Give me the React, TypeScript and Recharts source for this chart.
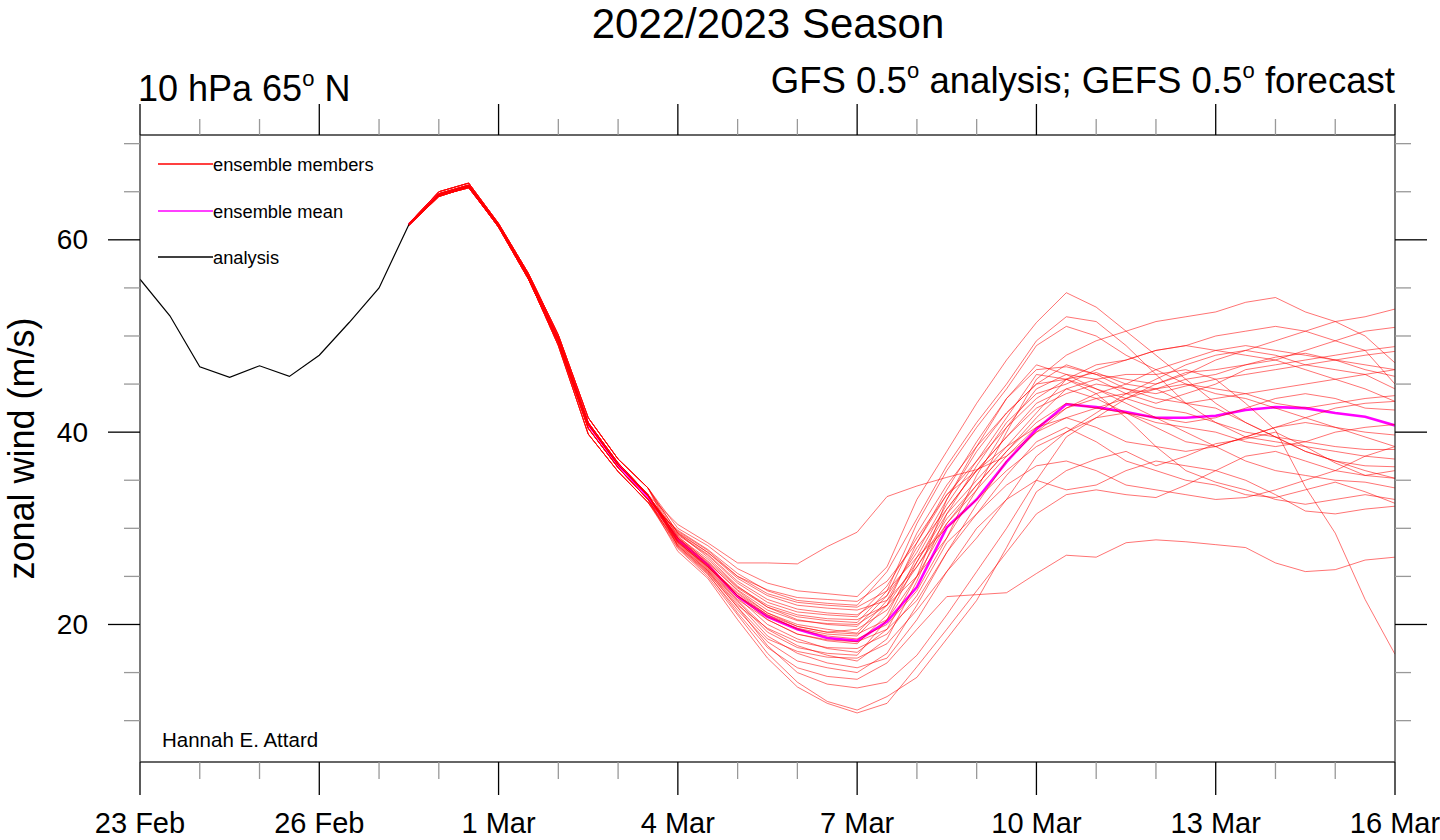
import React from "react";
import { LineChart, Line, XAxis, YAxis } from "recharts";

const FONT = "'Liberation Sans', Arial, Helvetica, sans-serif";

// days since 23 Feb 00Z
const analysisDays = [0, 0.5, 1, 1.5, 2, 2.5, 3, 3.5, 4, 4.5];
const analysisWind = [55.9, 52.1, 46.8, 45.7, 46.9, 45.8, 48.0, 51.4, 55.0, 61.6];

const forecastDays = [
  4.5, 5, 5.5, 6, 6.5, 7, 7.5, 8, 8.5, 9, 9.5, 10, 10.5, 11, 11.5, 12, 12.5,
  13, 13.5, 14, 14.5, 15, 15.5, 16, 16.5, 17, 17.5, 18, 18.5, 19, 19.5, 20, 20.5, 21,
];

const ensembleMean = [
  61.6, 64.7, 65.6, 61.5, 56.2, 49.6, 40.8, 36.6, 33.3, 28.8, 26.2, 22.9, 20.8, 19.5,
  18.6, 18.3, 20.3, 23.9, 30.1, 33.0, 36.9, 40.3, 42.9, 42.6, 42.1, 41.5, 41.5, 41.7,
  42.3, 42.6, 42.5, 42.0, 41.6, 40.7,
];

const m01 = [61.5, 64.5, 65.5, 61.3, 55.9, 49.3, 40.4, 36.3, 33.0, 27.6, 24.8, 20.5, 16.5, 13.5, 11.8, 10.8, 11.8, 15.6, 19.5, 23.5, 27.5, 31.5, 33.5, 34.0, 33.5, 33.2, 34.5, 36.0, 37.5, 38.0, 37.0, 36.0, 35.5, 36.0];
const m02 = [61.6, 64.6, 65.4, 61.4, 56.0, 49.0, 39.8, 35.9, 32.7, 27.9, 25.0, 21.0, 17.0, 14.0, 12.0, 11.1, 12.5, 14.5, 18.5, 22.5, 28.0, 33.8, 36.0, 37.2, 38.0, 36.5, 37.5, 38.8, 39.3, 40.0, 38.5, 36.8, 35.5, 35.2];
const m03 = [61.6, 64.8, 65.7, 61.6, 56.3, 49.8, 41.0, 36.8, 33.5, 28.2, 25.5, 21.8, 17.8, 15.0, 13.8, 13.4, 14.0, 16.8, 21.0, 25.5, 30.0, 35.0, 39.5, 41.5, 43.5, 45.0, 46.2, 46.5, 47.0, 47.8, 48.2, 47.5, 46.5, 45.8];
const m04 = [61.5, 64.5, 65.5, 61.3, 55.9, 49.3, 40.4, 36.3, 33.0, 28.0, 25.2, 21.5, 18.2, 16.2, 15.5, 15.0, 17.0, 22.0, 27.5, 31.5, 35.5, 39.0, 40.5, 39.0, 37.0, 36.0, 35.0, 34.5, 33.5, 33.2, 34.0, 34.8, 33.8, 32.6];
const m05 = [61.6, 64.7, 65.6, 61.5, 56.2, 49.6, 40.8, 36.6, 33.4, 28.4, 25.6, 22.2, 18.8, 17.0, 16.0, 15.5, 16.5, 20.5, 25.5, 30.0, 33.0, 35.0, 34.0, 34.5, 36.0, 37.0, 36.5, 36.0, 35.0, 33.5, 31.8, 31.5, 32.0, 32.3];
const m06 = [61.7, 65.0, 65.9, 61.7, 56.5, 50.1, 41.5, 37.2, 34.2, 28.6, 25.8, 22.5, 19.5, 17.8, 16.8, 16.2, 18.5, 24.5, 31.5, 35.0, 38.5, 42.0, 45.5, 46.2, 45.0, 44.5, 43.0, 42.5, 41.0, 39.5, 38.0, 37.0, 36.0, 35.2];
const m07 = [61.6, 64.8, 65.7, 61.6, 56.3, 49.8, 41.0, 36.8, 33.5, 28.8, 26.0, 22.8, 20.0, 18.5, 17.5, 17.1, 19.5, 25.0, 30.5, 34.5, 38.0, 41.5, 44.5, 43.5, 42.0, 40.5, 39.0, 38.5, 39.5, 40.5, 41.5, 42.5, 43.0, 43.2];
const m08 = [61.6, 64.7, 65.6, 61.5, 56.2, 49.6, 40.8, 36.6, 33.4, 29.0, 26.3, 23.0, 20.5, 19.0, 18.3, 18.0, 21.0, 27.0, 32.5, 37.0, 41.5, 46.0, 45.5, 44.0, 41.5, 38.5, 36.0, 34.8, 34.0, 33.0, 32.5, 33.0, 33.5, 33.0];
const m09 = [61.6, 64.6, 65.4, 61.4, 56.0, 49.0, 39.8, 35.9, 32.7, 28.5, 26.0, 23.2, 21.0, 19.5, 18.8, 18.5, 20.0, 23.5, 29.0, 35.5, 40.5, 44.5, 46.0, 45.5, 44.0, 43.0, 44.0, 45.0, 46.5, 47.0, 47.5, 48.0, 48.5, 48.9];
const m10 = [61.5, 64.5, 65.5, 61.3, 55.9, 49.3, 40.4, 36.3, 33.0, 29.2, 26.5, 23.5, 21.2, 20.0, 19.5, 19.1, 22.5, 28.0, 32.0, 36.0, 39.5, 43.0, 44.5, 45.5, 46.0, 46.0, 46.5, 45.5, 43.0, 40.2, 34.3, 29.5, 22.6, 16.9];
const m11 = [61.7, 65.0, 65.9, 61.7, 56.5, 50.1, 41.5, 37.2, 34.2, 29.5, 27.0, 24.0, 21.8, 20.5, 20.0, 19.8, 23.0, 29.5, 34.5, 38.5, 42.0, 45.0, 47.0, 46.0, 44.5, 43.5, 43.0, 43.5, 44.0, 44.5, 45.0, 45.5, 46.0, 46.5];
const m12 = [61.6, 64.8, 65.7, 61.6, 56.3, 49.8, 41.0, 36.8, 33.5, 29.0, 26.6, 23.8, 21.8, 20.8, 20.4, 20.2, 23.5, 30.5, 36.0, 40.5, 44.5, 49.0, 51.0, 50.0, 48.0, 46.5, 45.0, 44.0, 43.5, 42.5, 41.5, 40.5, 39.5, 38.5];
const m13 = [61.6, 64.7, 65.6, 61.5, 56.2, 49.6, 40.8, 36.6, 33.4, 29.3, 27.2, 24.3, 22.3, 21.3, 21.0, 20.8, 24.0, 29.0, 33.5, 37.0, 40.5, 43.5, 45.5, 47.0, 47.5, 48.5, 49.0, 48.5, 48.0, 47.5, 48.5, 49.5, 50.5, 50.9];
const m14 = [61.5, 64.5, 65.5, 61.3, 55.9, 49.3, 40.4, 36.3, 33.0, 29.6, 27.5, 24.8, 23.0, 22.0, 21.7, 21.5, 22.5, 26.0, 30.5, 34.0, 37.5, 40.5, 42.5, 43.5, 44.0, 44.5, 45.5, 46.0, 47.0, 47.5, 46.5, 45.5, 44.5, 43.2];
const m15 = [61.6, 64.6, 65.4, 61.4, 56.0, 49.0, 39.8, 35.9, 32.7, 29.8, 27.8, 25.3, 23.5, 22.5, 22.2, 22.0, 25.5, 31.0, 36.5, 41.0, 45.0, 49.5, 52.0, 51.5, 49.0, 46.0, 43.0, 41.0, 39.5, 39.0, 38.5, 38.0, 37.5, 37.2];
const m16 = [61.7, 65.0, 65.9, 61.7, 56.5, 50.1, 41.5, 37.2, 34.2, 30.0, 28.2, 25.8, 24.3, 23.5, 23.2, 22.9, 26.0, 33.0, 38.0, 43.0, 47.5, 51.4, 54.5, 53.0, 50.5, 48.0, 45.5, 43.0, 41.0, 39.5, 38.0, 37.0, 36.5, 36.4];
const m17 = [61.6, 64.8, 65.7, 61.6, 56.3, 49.8, 41.0, 36.8, 33.5, 30.4, 28.5, 26.4, 26.4, 26.3, 28.1, 29.6, 33.3, 34.4, 35.3, 36.1, 37.5, 40.0, 42.5, 44.0, 45.0, 46.5, 47.5, 48.5, 49.0, 48.5, 48.0, 47.5, 47.0, 46.5];
const m18 = [61.6, 64.7, 65.6, 61.5, 56.2, 49.6, 40.8, 36.6, 33.4, 28.9, 26.2, 23.0, 21.0, 19.8, 19.2, 19.5, 21.5, 26.0, 31.0, 34.5, 38.0, 41.0, 43.0, 42.5, 42.0, 41.5, 41.0, 41.5, 42.5, 43.5, 44.0, 43.5, 42.5, 42.3];
const m19 = [61.5, 64.5, 65.5, 61.3, 55.9, 49.3, 40.4, 36.3, 33.0, 28.6, 25.9, 22.6, 20.5, 19.0, 18.4, 18.2, 19.5, 22.5, 27.5, 32.5, 37.0, 40.0, 41.5, 40.5, 39.0, 38.5, 38.0, 38.5, 39.5, 40.5, 41.0, 40.5, 40.0, 39.7];
const m20 = [61.6, 64.6, 65.4, 61.4, 56.0, 49.0, 39.8, 35.9, 32.7, 28.3, 25.6, 22.0, 19.6, 18.2, 17.6, 17.5, 19.0, 23.0, 28.5, 31.5, 34.5, 36.5, 37.0, 36.0, 34.5, 34.0, 33.5, 33.0, 33.2, 34.0, 35.0, 36.0, 37.5, 38.5];
const m21 = [61.6, 64.8, 65.7, 61.6, 56.3, 49.8, 41.0, 36.8, 33.5, 28.5, 25.7, 22.4, 19.2, 17.6, 17.0, 16.8, 20.5, 26.5, 32.0, 36.0, 39.5, 42.5, 44.0, 45.0, 44.5, 44.0, 44.8, 45.5, 46.0, 46.5, 47.0, 47.5, 48.0, 48.4];
const m22 = [61.7, 65.0, 65.9, 61.7, 56.5, 50.1, 41.5, 37.2, 34.2, 29.1, 26.8, 23.9, 22.0, 21.0, 20.6, 20.5, 22.0, 25.0, 29.0, 34.0, 40.0, 45.5, 48.0, 49.5, 50.5, 51.5, 52.0, 52.5, 53.5, 54.0, 52.5, 51.5, 50.0, 47.2];
const m23 = [61.6, 64.7, 65.6, 61.5, 56.2, 49.6, 40.8, 36.6, 33.4, 29.4, 27.3, 24.5, 22.6, 21.6, 21.2, 21.0, 23.0, 27.5, 33.0, 38.5, 43.5, 47.0, 46.0, 44.5, 43.0, 41.5, 40.0, 38.5, 37.0, 36.0, 35.5, 35.0, 34.8, 34.2];
const m24 = [61.5, 64.5, 65.5, 61.3, 55.9, 49.3, 40.4, 36.3, 33.0, 29.7, 27.7, 25.0, 23.6, 22.8, 22.6, 22.4, 24.5, 28.5, 34.0, 39.0, 43.5, 46.5, 46.8, 46.0, 45.5, 45.0, 46.0, 47.5, 48.5, 49.5, 50.5, 51.5, 52.0, 52.8];
const m25 = [61.7, 65.0, 65.9, 61.7, 56.5, 50.1, 41.5, 37.2, 34.2, 28.1, 25.3, 21.2, 17.6, 15.5, 14.6, 14.3, 16.0, 19.5, 22.9, 23.1, 23.3, 25.3, 27.2, 27.0, 28.5, 28.8, 28.6, 28.3, 28.0, 26.4, 25.5, 25.7, 26.7, 27.0];
const m26 = [61.6, 64.8, 65.7, 61.6, 56.3, 49.8, 41.0, 36.8, 33.5, 28.7, 26.1, 23.3, 21.2, 19.8, 19.2, 19.0, 20.5, 25.0, 33.0, 38.0, 42.0, 45.0, 45.5, 44.5, 43.5, 42.5, 42.0, 41.0, 40.0, 39.5, 39.0, 38.5, 38.2, 38.2];
const m27 = [61.6, 64.6, 65.4, 61.4, 56.0, 49.0, 39.8, 35.9, 32.7, 29.0, 26.4, 23.6, 21.5, 20.4, 20.1, 20.0, 22.0, 26.5, 31.5, 36.5, 41.0, 44.0, 45.0, 46.5, 47.5, 48.5, 49.0, 50.0, 50.5, 51.0, 50.5, 49.5, 48.5, 45.0];
const m28 = [61.6, 64.7, 65.6, 61.5, 56.2, 49.6, 40.8, 36.6, 33.4, 28.6, 26.0, 23.0, 20.8, 19.6, 19.0, 18.8, 22.0, 28.5, 33.5, 36.0, 38.5, 40.5, 41.5, 42.5, 43.5, 44.5, 45.0, 44.5, 44.0, 43.0, 42.5, 43.0, 43.5, 43.8];
const m29 = [61.5, 64.5, 65.5, 61.3, 55.9, 49.3, 40.4, 36.3, 33.0, 28.2, 25.4, 21.8, 18.5, 17.2, 16.6, 16.5, 18.0, 21.5, 25.5, 29.0, 33.0, 37.5, 40.0, 41.5, 42.0, 41.0, 40.5, 40.0, 39.0, 38.5, 39.0, 40.0, 40.5, 40.8];
const m30 = [61.7, 65.0, 65.9, 61.7, 56.5, 50.1, 41.5, 37.2, 34.2, 29.5, 27.5, 25.0, 23.2, 22.3, 22.0, 21.8, 23.5, 27.0, 30.0, 33.0, 36.0, 38.5, 40.0, 42.0, 44.0, 45.5, 47.0, 48.0, 48.5, 48.0, 47.0, 46.5, 46.0, 44.5];

const members = [
  m01, m02, m03, m04, m05, m06, m07, m08, m09, m10, m11, m12, m13, m14, m15,
  m16, m17, m18, m19, m20, m21, m22, m23, m24, m25, m26, m27, m28, m29, m30,
];

const xTicks = [0, 1, 2, 3, 4, 5, 6, 7, 8, 9, 10, 11, 12, 13, 14, 15, 16, 17, 18, 19, 20, 21];
const xMajorTicks = [0, 3, 6, 9, 12, 15, 18, 21];
const xTickLabels = ["23 Feb", "26 Feb", "1 Mar", "4 Mar", "7 Mar", "10 Mar", "13 Mar", "16 Mar"];
const yTicks = [10, 15, 20, 25, 30, 35, 40, 45, 50, 55, 60, 65, 70];
const yMajorTicks = [20, 40, 60];
const yTickLabels = ["20", "40", "60"];

const allDays = Array.from(new Set([...analysisDays, ...forecastDays])).sort((a, b) => a - b);
const rows = allDays.map((d) => {
  const row: Record<string, number | null> = { t: d };
  const ai = analysisDays.indexOf(d);
  const fi = forecastDays.indexOf(d);
  row.analysis = ai >= 0 ? analysisWind[ai] : null;
  row.mean = fi >= 0 ? ensembleMean[fi] : null;
  members.forEach((m, k) => {
    row["m" + k] = fi >= 0 ? m[fi] : null;
  });
  return row;
});

const MAJOR = "#000";
const MINOR = "#999";

const BottomTick = (p: any) => {
  const i = xMajorTicks.indexOf(p.payload.value);
  const major = i >= 0;
  return (
    <g>
      <line x1={p.x} x2={p.x} y1={p.y} y2={p.y + (major ? 33 : 17)} stroke={major ? MAJOR : MINOR} strokeWidth={1.3} />
      {major && (
        <text x={p.x} y={p.y + 71} textAnchor="middle" fontSize={29} fontFamily={FONT} fill="#000">
          {xTickLabels[i]}
        </text>
      )}
    </g>
  );
};

const TopTick = (p: any) => {
  const major = xMajorTicks.indexOf(p.payload.value) >= 0;
  return (
    <line x1={p.x} x2={p.x} y1={p.y} y2={p.y - (major ? 31 : 16)} stroke={major ? MAJOR : MINOR} strokeWidth={1.3} />
  );
};

const LeftTick = (p: any) => {
  const i = yMajorTicks.indexOf(p.payload.value);
  const major = i >= 0;
  return (
    <g>
      <line x1={p.x - (major ? 32 : 16)} x2={p.x} y1={p.y} y2={p.y} stroke={major ? MAJOR : MINOR} strokeWidth={1.3} />
      {major && (
        <text x={p.x - 52} y={p.y} textAnchor="end" dominantBaseline="central" fontSize={28} fontFamily={FONT} fill="#000">
          {yTickLabels[i]}
        </text>
      )}
    </g>
  );
};

const RightTick = (p: any) => {
  const major = yMajorTicks.indexOf(p.payload.value) >= 0;
  return (
    <line x1={p.x} x2={p.x + (major ? 32 : 16)} y1={p.y} y2={p.y} stroke={major ? MAJOR : MINOR} strokeWidth={1.3} />
  );
};

const AXIS_LINE = { stroke: "#333", strokeWidth: 1.3 };

export default function App() {
  return (
    <div style={{ position: "absolute", left: 0, top: 0, width: 1440, height: 840, background: "#fff" }}>
      <LineChart width={1440} height={840} data={rows} margin={{ top: 100, right: 0, bottom: 0, left: 0 }}>
        <XAxis
          xAxisId="b"
          dataKey="t"
          type="number"
          domain={[0, 21]}
          ticks={xTicks}
          interval={0}
          orientation="bottom"
          height={78}
          tickSize={0}
          tickMargin={0}
          tickLine={false}
          axisLine={AXIS_LINE}
          tick={<BottomTick />}
          allowDataOverflow
        />
        <XAxis
          xAxisId="top"
          dataKey="t"
          type="number"
          domain={[0, 21]}
          ticks={xTicks}
          interval={0}
          orientation="top"
          height={35}
          tickSize={0}
          tickMargin={0}
          tickLine={false}
          axisLine={AXIS_LINE}
          tick={<TopTick />}
          allowDataOverflow
        />
        <YAxis
          yAxisId="l"
          type="number"
          domain={[5.7, 70.9]}
          ticks={yTicks}
          interval={0}
          orientation="left"
          width={140}
          tickSize={0}
          tickMargin={0}
          tickLine={false}
          axisLine={AXIS_LINE}
          tick={<LeftTick />}
          allowDataOverflow
        />
        <YAxis
          yAxisId="r"
          type="number"
          domain={[5.7, 70.9]}
          ticks={yTicks}
          interval={0}
          orientation="right"
          width={45}
          tickSize={0}
          tickMargin={0}
          tickLine={false}
          axisLine={AXIS_LINE}
          tick={<RightTick />}
          allowDataOverflow
        />
        <Line
          xAxisId="b"
          yAxisId="l"
          dataKey="mean"
          type="linear"
          stroke="#ff00ff"
          strokeWidth={2.6}
          dot={false}
          activeDot={false}
          isAnimationActive={false}
        />
        {members.map((_, k) => (
          <Line
            key={k}
            xAxisId="b"
            yAxisId="l"
            dataKey={"m" + k}
            type="linear"
            stroke="#ff0000"
            strokeOpacity={0.55}
            strokeWidth={1}
            dot={false}
            activeDot={false}
            isAnimationActive={false}
          />
        ))}
        <Line
          xAxisId="b"
          yAxisId="l"
          dataKey="analysis"
          type="linear"
          stroke="#000"
          strokeWidth={1.2}
          dot={false}
          activeDot={false}
          isAnimationActive={false}
        />
      </LineChart>
      <svg
        width={1440}
        height={840}
        style={{ position: "absolute", left: 0, top: 0, pointerEvents: "none" }}
        fontFamily={FONT}
      >
        <text x={768} y={38} textAnchor="middle" fontSize={42} fill="#000">
          2022/2023 Season
        </text>
        <text x={138} y={101} fontSize={36} fill="#000">
          10 hPa 65<tspan dy={-15} fontSize={22}>o</tspan>
          <tspan dy={15}> N</tspan>
        </text>
        <text x={1395} y={93} textAnchor="end" fontSize={36.6} fill="#000">
          GFS 0.5<tspan dy={-15} fontSize={22}>o</tspan>
          <tspan dy={15}> analysis; GEFS 0.5</tspan>
          <tspan dy={-15} fontSize={22}>o</tspan>
          <tspan dy={15}> forecast</tspan>
        </text>
        <text
          transform="translate(34,448.5) rotate(-90)"
          textAnchor="middle"
          fontSize={36}
          fill="#000"
        >
          zonal wind (m/s)
        </text>
        <line x1={158} x2={213} y1={164} y2={164} stroke="#ff0000" strokeWidth={1.3} />
        <text x={213} y={164} dominantBaseline="central" fontSize={18.3} fill="#000">ensemble members</text>
        <line x1={158} x2={213} y1={211} y2={211} stroke="#ff00ff" strokeWidth={1.3} />
        <text x={213} y={211} dominantBaseline="central" fontSize={18.3} fill="#000">ensemble mean</text>
        <line x1={158} x2={213} y1={257} y2={257} stroke="#000" strokeWidth={1.3} />
        <text x={213} y={257} dominantBaseline="central" fontSize={18.3} fill="#000">analysis</text>
        <text x={162} y={747} fontSize={20.5} fill="#000">Hannah E. Attard</text>
      </svg>
    </div>
  );
}
